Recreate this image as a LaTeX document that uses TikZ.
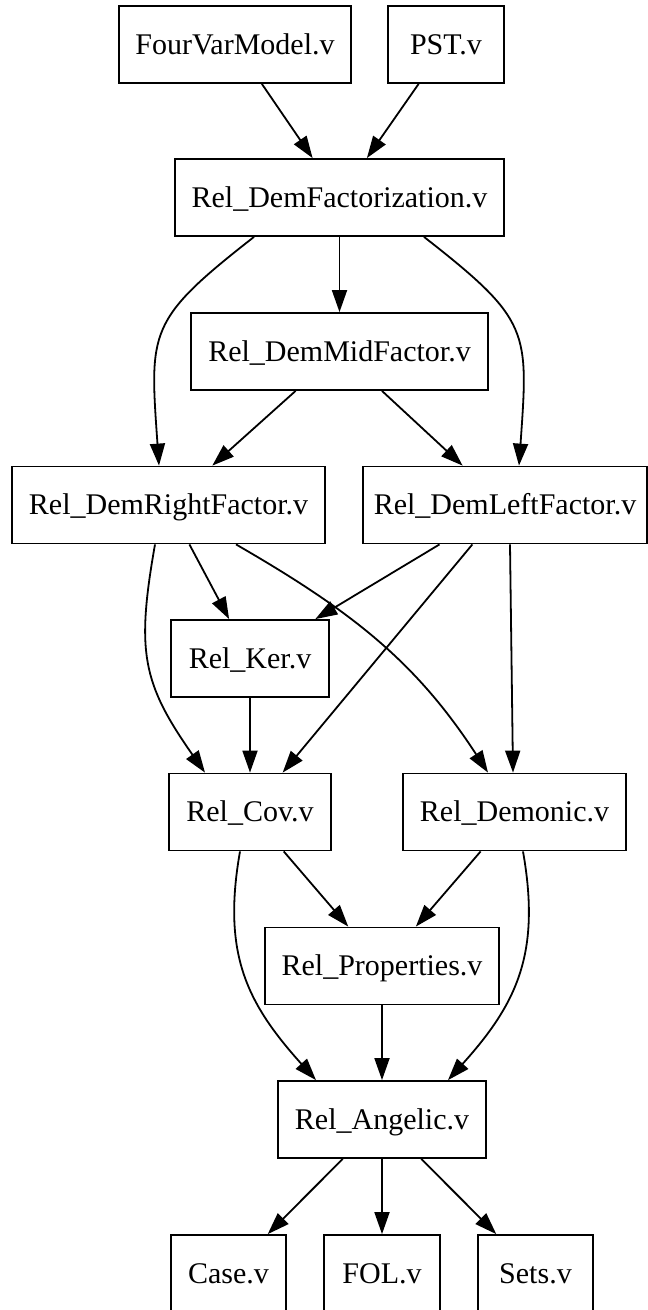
\documentclass[tikz,border=0pt]{standalone}
\usepackage{fontspec}
\setmainfont{Liberation Serif}
\usetikzlibrary{arrows.meta}
\begin{document}
\begin{tikzpicture}[x=1pt,y=1pt,
  file/.style={draw,line width=1.8pt,rectangle,inner sep=0pt,minimum height=77pt,
    text height=23pt,text depth=3.4pt,font=\fontsize{30}{36}\selectfont},
  dep/.style={line width=1.8pt,-{Triangle[length=22pt,width=15pt]}}]
\useasboundingbox (0,0) rectangle (648,-1310);

% files, one row per rank
\node[file,minimum width=232pt] (fvm) at (235,-44.5) {FourVarModel.v};
\node[file,minimum width=116pt] (pst) at (446,-44.5) {PST.v};
\node[file,minimum width=329pt] (fact) at (339.5,-197.5) {Rel\_DemFactorization.v};
\node[file,minimum width=297pt] (mid) at (339.5,-351.5) {Rel\_DemMidFactor.v};
\node[file,minimum width=313pt] (dright) at (168.5,-505) {Rel\_DemRightFactor.v};
\node[file,minimum width=284pt] (dleft) at (505,-505) {Rel\_DemLeftFactor.v};
\node[file,minimum width=158pt] (ker) at (250,-658.5) {Rel\_Ker.v};
\node[file,minimum width=162pt] (cov) at (250,-812) {Rel\_Cov.v};
\node[file,minimum width=223pt] (demonic) at (514.5,-812) {Rel\_Demonic.v};
\node[file,minimum width=234pt] (props) at (382,-966) {Rel\_Properties.v};
\node[file,minimum width=208pt] (angelic) at (382,-1119.5) {Rel\_Angelic.v};
\node[file,minimum width=115pt] (case) at (228.5,-1273.5) {Case.v};
\node[file,minimum width=116pt] (fol) at (382,-1273.5) {FOL.v};
\node[file,minimum width=115pt] (sets) at (535.5,-1273.5) {Sets.v};

% dependencies
\draw[dep] (fvm) -- (fact);
\draw[dep] (pst) -- (fact);
\draw[dep] (fact) -- (mid);
\draw[dep] ([xshift=-85.5pt]fact.south) to[out=-142,in=94,looseness=1.4] ([xshift=-9.5pt]dright.north);
\draw[dep] ([xshift=84.5pt]fact.south) to[out=-38,in=86,looseness=1.4] ([xshift=14pt]dleft.north);
\draw[dep] (mid) -- (dright);
\draw[dep] (mid) -- (dleft);
\draw[dep] ([xshift=-13.5pt]dright.south) to[out=-100,in=125,looseness=1.2] ([xshift=-45pt]cov.north);
\draw[dep] (dright) -- (ker);
\draw[dep] ([xshift=67.5pt]dright.south) to[out=-30,in=123] ([xshift=-26.5pt]demonic.north);
\draw[dep] (dleft) -- (ker);
\draw[dep] (dleft) -- (cov);
\draw[dep] ([xshift=5pt]dleft.south) -- ([xshift=-1.5pt]demonic.north);
\draw[dep] (ker) -- (cov);
\draw[dep] (cov) -- (props);
\draw[dep] (demonic) -- (props);
\draw[dep] ([xshift=-10pt]cov.south) to[out=-100,in=132,looseness=1.1] ([xshift=-66pt]angelic.north);
\draw[dep] ([xshift=8.5pt]demonic.south) to[out=-80,in=48,looseness=1.1] ([xshift=66pt]angelic.north);
\draw[dep] (props) -- (angelic);
\draw[dep] (angelic) -- (case);
\draw[dep] (angelic) -- (fol);
\draw[dep] (angelic) -- (sets);
\end{tikzpicture}
\end{document}
